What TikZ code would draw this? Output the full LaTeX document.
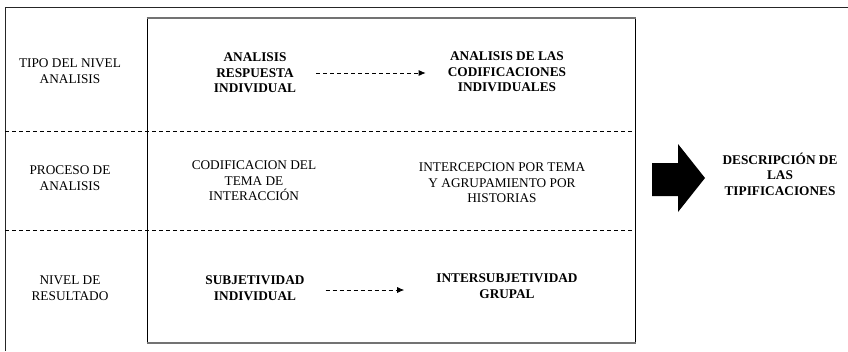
\documentclass[tikz,border=0pt]{standalone}
\usepackage{fontspec}
\setmainfont{Liberation Serif}
\usetikzlibrary{arrows.meta}
\begin{document}
\begin{tikzpicture}[x=1pt,y=-1pt,
  lbl/.style={align=center,inner sep=2pt,font=\fontsize{13.3}{15.6}\selectfont},
  blbl/.style={lbl,font=\fontsize{13.3}{15.6}\selectfont\bfseries},
  frame/.style={line width=1pt,draw=black!85},
  sep/.style={line width=0.8pt,dash pattern=on 4pt off 3pt},
  flow/.style={line width=0.8pt,dash pattern=on 4pt off 3pt,-{Latex[length=7pt,width=6pt]}}]
\useasboundingbox (0,0) rectangle (848,351);
% outer frame
\draw[frame] (5,351) -- (5,7) -- (848,7);
% inner box
\draw[line width=1pt] (147,18) -- (147,343);
\draw[line width=1pt] (635,18) -- (635,343);
\draw[line width=1.6pt,draw=black!55] (146.5,18) -- (635.5,18);
\draw[line width=1.6pt,draw=black!55] (146.5,343) -- (635.5,343);
% dashed separators
\draw[sep] (5,131.5) -- (635,131.5);
\draw[sep] (5,230.5) -- (635,230.5);
% left labels
\node[lbl] (t1) at (70,71) {TIPO DEL NIVEL\\ANALISIS};
\node[lbl] (t2) at (70,178) {PROCESO DE\\ANALISIS};
\node[lbl] (t3) at (70,288) {NIVEL DE\\RESULTADO};
% row 1
\node[blbl] (a1) at (255,73) {ANALISIS\\RESPUESTA\\INDIVIDUAL};
\node[blbl] (a2) at (507,72) {ANALISIS DE LAS\\CODIFICACIONES\\INDIVIDUALES};
\draw[flow,shorten <=18pt,shorten >=20pt] (a1.east) -- (a2.west |- a1.east);
% row 2
\node[lbl] (b1) at (254,181) {CODIFICACION DEL\\TEMA DE\\INTERACCIÓN};
\node[lbl] (b2) at (502,183) {INTERCEPCION POR TEMA\\Y AGRUPAMIENTO POR\\HISTORIAS};
% row 3
\node[blbl] (c1) at (255,288) {SUBJETIVIDAD\\INDIVIDUAL};
\node[blbl] (c2) at (507,286) {INTERSUBJETIVIDAD\\GRUPAL};
\draw[flow,shorten <=19pt,shorten >=30pt] (c1.east |- 0,290) -- (c2.west |- 0,290);
% big arrow and result
\fill (652,163) -- (678,163) -- (678,144) -- (705,178) -- (678,212) -- (678,196) -- (652,196) -- cycle;
\node[blbl] (d) at (780,174) {DESCRIPCIÓN DE\\LAS\\TIPIFICACIONES};
\end{tikzpicture}
\end{document}
